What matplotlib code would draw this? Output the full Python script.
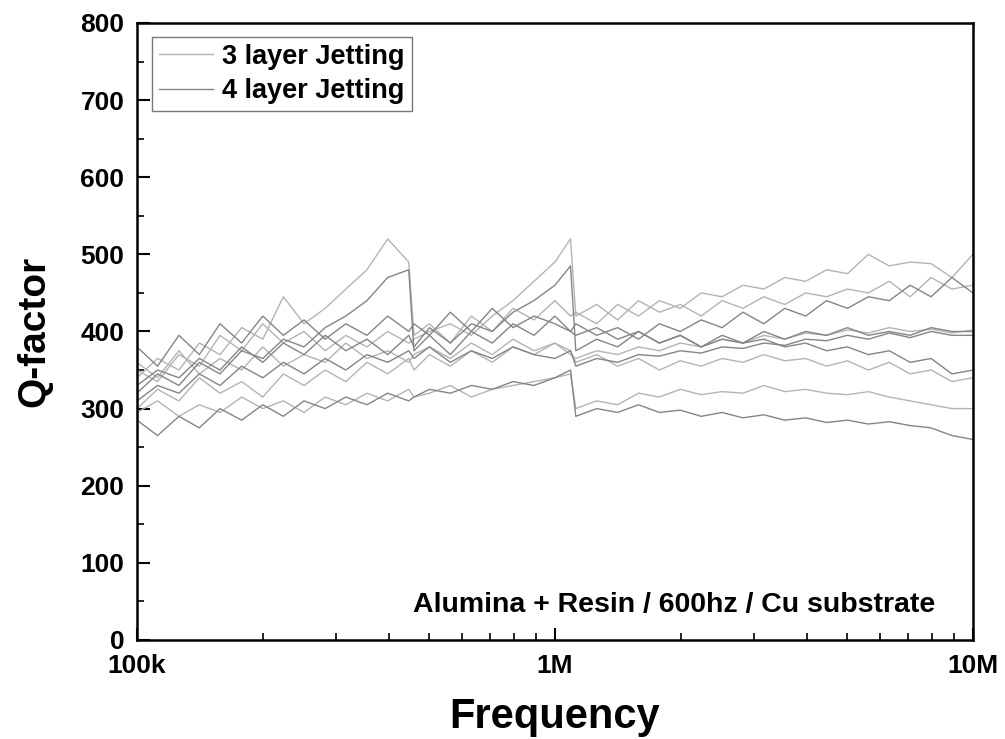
import matplotlib
matplotlib.use('Agg')
import matplotlib.pyplot as plt
from matplotlib.ticker import FixedLocator, NullFormatter

plt.rcParams['font.family'] = ['Liberation Sans', 'DejaVu Sans']
plt.rcParams['font.weight'] = 'bold'

# частоты, кГц
freq_khz = [100, 112, 126, 141, 158, 178, 200, 224, 251, 282, 316, 355, 398, 447, 460,
            501, 562, 631, 708, 794, 891, 1000, 1090, 1122, 1259, 1413, 1585, 1778, 1995,
            2239, 2512, 2818, 3162, 3548, 3981, 4467, 5012, 5623, 6310, 7079, 7943, 8913, 10000]

# 3 layer Jetting
q3_a = [340, 365, 350, 385, 370, 405, 390, 445, 410, 430, 455, 480, 520, 490, 395,
        410, 385, 420, 400, 430, 415, 440, 420, 425, 410, 435, 420, 440, 430,
        450, 445, 460, 455, 470, 465, 480, 475, 500, 485, 490, 488, 470, 500]
q3_b = [350, 335, 370, 355, 395, 375, 410, 385, 400, 375, 395, 380, 400, 385, 390,
        400, 410, 395, 420, 440, 465, 490, 520, 420, 435, 415, 440, 425, 435,
        420, 440, 430, 445, 435, 450, 445, 455, 450, 465, 445, 470, 455, 460]
q3_c = [360, 340, 375, 345, 365, 350, 380, 355, 370, 360, 385, 365, 375, 360, 370,
        380, 365, 385, 370, 390, 375, 385, 370, 365, 375, 370, 380, 375, 385,
        380, 390, 385, 395, 390, 398, 395, 402, 398, 405, 400, 403, 398, 402]
q3_d = [300, 325, 310, 340, 320, 335, 315, 345, 330, 350, 335, 360, 345, 365, 350,
        370, 355, 375, 360, 380, 370, 385, 375, 360, 370, 355, 365, 350, 362,
        355, 365, 360, 370, 362, 365, 355, 362, 350, 360, 345, 350, 335, 340]
q3_e = [295, 310, 290, 305, 295, 315, 300, 310, 295, 315, 305, 320, 310, 325, 315,
        320, 330, 315, 325, 330, 335, 340, 345, 300, 310, 305, 320, 315, 325,
        318, 322, 320, 330, 322, 325, 320, 318, 322, 315, 310, 305, 300, 300]

# 4 layer Jetting
q4_a = [320, 345, 330, 360, 345, 375, 365, 390, 380, 405, 420, 440, 470, 480, 375,
        395, 370, 400, 385, 410, 395, 420, 400, 410, 395, 405, 390, 410, 400,
        415, 405, 425, 410, 430, 420, 440, 430, 445, 440, 460, 445, 470, 450]
q4_b = [330, 350, 340, 365, 350, 380, 360, 385, 370, 395, 375, 390, 370, 395, 380,
        405, 385, 410, 400, 425, 440, 460, 485, 375, 390, 380, 400, 385, 395,
        380, 395, 385, 400, 390, 400, 395, 405, 395, 400, 395, 405, 400, 400]
q4_c = [310, 330, 320, 345, 330, 355, 340, 360, 345, 365, 350, 370, 360, 375, 365,
        380, 360, 375, 365, 380, 370, 365, 375, 355, 365, 360, 370, 368, 375,
        372, 380, 378, 385, 382, 390, 388, 395, 390, 398, 392, 400, 395, 395]
q4_d = [380, 355, 395, 370, 410, 385, 420, 395, 415, 390, 410, 395, 420, 400, 410,
        395, 425, 400, 430, 405, 420, 410, 400, 395, 405, 390, 400, 385, 395,
        380, 390, 385, 390, 380, 385, 375, 380, 370, 375, 360, 365, 345, 350]
q4_e = [285, 265, 290, 275, 300, 285, 305, 290, 310, 300, 315, 305, 320, 310, 315,
        325, 320, 330, 325, 335, 330, 340, 350, 290, 300, 295, 305, 295, 298,
        290, 295, 288, 292, 285, 288, 282, 285, 280, 283, 278, 275, 265, 260]

series_3 = [q3_a, q3_b, q3_c, q3_d, q3_e]
series_4 = [q4_a, q4_b, q4_c, q4_d, q4_e]

freq = [f * 1e3 for f in freq_khz]

fig = plt.figure(figsize=(10.05, 7.39), dpi=100)
ax = fig.add_axes([0.1363, 0.134, 0.8317, 0.8349])

for i, q in enumerate(series_3):
    ax.plot(freq, q, color='#b4b4b4', linewidth=1.0,
            label='3 layer Jetting' if i == 0 else None)
for i, q in enumerate(series_4):
    ax.plot(freq, q, color='#858585', linewidth=1.0,
            label='4 layer Jetting' if i == 0 else None)

ax.set_xscale('log')
ax.set_xlim(1e5, 1e7)
ax.set_ylim(0, 800)

ax.xaxis.set_major_locator(FixedLocator([1e5, 1e6, 1e7]))
ax.set_xticklabels(['100k', '1M', '10M'])
minors = [m * d for d in (1e5, 1e6) for m in range(2, 10)]
ax.xaxis.set_minor_locator(FixedLocator(minors))
ax.xaxis.set_minor_formatter(NullFormatter())

ax.yaxis.set_major_locator(FixedLocator(range(0, 801, 100)))
ax.yaxis.set_minor_locator(FixedLocator(range(50, 800, 100)))

ax.tick_params(which='major', direction='in', length=9, width=1.5,
               labelsize=19, top=False, right=False)
ax.tick_params(which='minor', direction='in', length=5, width=1.2,
               top=False, right=False)
ax.tick_params(axis='x', pad=10)
ax.tick_params(axis='y', pad=9)
for lbl in ax.get_xticklabels() + ax.get_yticklabels():
    lbl.set_fontweight('bold')

for sp in ax.spines.values():
    sp.set_linewidth(1.8)

ax.set_xlabel('Frequency', fontsize=30, fontweight='bold', labelpad=14)
ax.set_ylabel('Q-factor', fontsize=28, fontweight='bold', labelpad=20)

ax.text(0.9545, 0.057, 'Alumina + Resin / 600hz / Cu substrate', transform=ax.transAxes,
        ha='right', va='center', fontsize=20.5, fontweight='bold')

leg = ax.legend(loc='upper left', bbox_to_anchor=(0.018, 0.977), borderaxespad=0,
                fontsize=19.5, frameon=True, fancybox=False, edgecolor='#555555',
                handlelength=2.0, borderpad=0.25, labelspacing=0.3, handletextpad=0.35)
leg.get_frame().set_linewidth(1.0)
for t in leg.get_texts():
    t.set_fontweight('bold')

plt.savefig('out.png', dpi=100)
